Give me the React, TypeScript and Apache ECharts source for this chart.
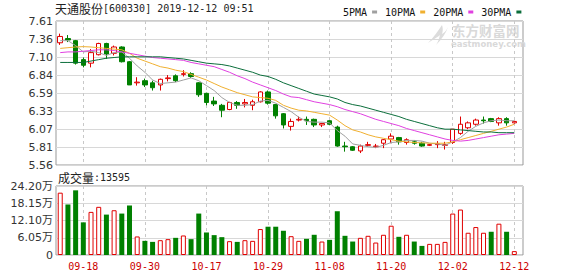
import React, { useEffect, useRef } from 'react';
import * as echarts from 'echarts';

const dates = [
  '09-12','09-16','09-17','09-18','09-19','09-20','09-23','09-24','09-25','09-26','09-27','09-30',
  '10-08','10-09','10-10','10-11','10-14','10-15','10-16','10-17','10-18','10-21','10-22','10-23','10-24','10-25','10-28','10-29','10-30','10-31',
  '11-01','11-04','11-05','11-06','11-07','11-08','11-11','11-12','11-13','11-14','11-15','11-18','11-19','11-20','11-21','11-22','11-25','11-26','11-27','11-28','11-29',
  '12-02','12-03','12-04','12-05','12-06','12-09','12-10','12-11','12-12'
];
const labelDates = ['09-18','09-30','10-17','10-29','11-08','11-20','12-02','12-12'];

const openP = [7.30,7.36,7.33,7.06,7.01,7.13,7.29,7.15,7.24,7.03,6.73,6.76,6.73,6.70,6.79,6.83,6.85,6.86,6.73,6.58,6.47,6.41,6.35,6.45,6.43,6.41,6.46,6.60,6.42,6.29,6.11,6.20,6.21,6.21,6.13,6.19,6.10,5.83,5.82,5.76,5.84,5.82,5.87,5.93,5.95,5.88,5.89,5.87,5.84,5.85,5.84,5.88,6.01,6.09,6.14,6.20,6.22,6.16,6.22,6.16];
const closeP = [7.39,7.34,7.01,6.98,7.16,7.29,7.14,7.24,7.03,6.70,6.74,6.70,6.66,6.78,6.80,6.76,6.86,6.82,6.56,6.45,6.43,6.34,6.45,6.41,6.45,6.46,6.60,6.44,6.26,6.13,6.18,6.21,6.19,6.13,6.15,6.14,5.83,5.82,5.77,5.83,5.85,5.83,5.92,5.97,5.89,5.92,5.87,5.83,5.85,5.86,5.85,6.07,6.14,6.16,6.20,6.19,6.18,6.22,6.16,6.18];
const lowP = [7.27,7.31,6.99,6.95,6.95,7.12,7.07,7.12,7.02,6.70,6.69,6.67,6.62,6.62,6.75,6.74,6.82,6.80,6.53,6.41,6.40,6.24,6.34,6.36,6.38,6.34,6.45,6.42,6.22,6.08,6.05,6.18,6.13,6.10,6.10,6.13,5.82,5.75,5.76,5.73,5.82,5.80,5.80,5.87,5.85,5.85,5.85,5.82,5.83,5.80,5.78,5.86,5.99,6.07,6.12,6.15,6.17,6.12,6.12,6.15];
const highP = [7.43,7.41,7.34,7.09,7.21,7.30,7.30,7.26,7.25,7.04,6.81,6.79,6.76,6.79,6.84,6.85,6.91,6.88,6.74,6.59,6.53,6.43,6.46,6.47,6.50,6.49,6.61,6.62,6.43,6.30,6.22,6.25,6.25,6.22,6.16,6.20,6.12,5.89,5.83,5.85,5.89,5.86,5.93,6.01,5.96,5.94,5.91,5.89,5.86,5.90,5.89,6.07,6.25,6.18,6.22,6.25,6.23,6.24,6.24,6.19];

const volumes = [218600,177200,226800,114500,151200,168900,141700,157000,145300,173600,65000,49600,46000,52000,55600,60200,68500,55600,145300,79000,69700,62600,48500,46000,52000,49600,91000,99200,99200,85000,66000,49600,56700,70900,47200,53100,153500,67300,47200,60200,67300,43700,70900,102700,63800,70900,47200,31900,39000,39000,46000,145300,159400,78000,98000,78000,81500,109800,81500,13595];
const volDir = [1,-1,-1,-1,1,1,-1,1,-1,-1,1,-1,-1,1,1,-1,1,-1,-1,-1,-1,-1,1,-1,1,1,1,-1,-1,-1,1,1,-1,-1,1,-1,-1,-1,-1,1,1,1,1,1,-1,1,-1,-1,1,1,1,1,1,1,1,1,-1,1,-1,1];

const ma5 = [7.33,7.33,7.26,7.17,7.18,7.16,7.12,7.16,7.17,7.08,6.97,6.88,6.77,6.72,6.73,6.74,6.77,6.80,6.76,6.69,6.62,6.52,6.45,6.41,6.41,6.42,6.47,6.48,6.44,6.38,6.32,6.24,6.18,6.17,6.17,6.16,6.05,5.97,5.86,5.84,5.82,5.81,5.84,5.88,5.89,5.91,5.91,5.90,5.87,5.86,5.84,5.89,5.95,6.04,6.11,6.16,6.19,6.20,6.19,6.19];
const ma10 = [7.22,7.23,7.24,7.245,7.24,7.23,7.22,7.21,7.20,7.15,7.08,7.04,7.00,6.96,6.94,6.91,6.89,6.85,6.81,6.77,6.72,6.67,6.63,6.59,6.56,6.53,6.52,6.51,6.48,6.41,6.37,6.34,6.33,6.31,6.29,6.27,6.20,6.12,6.06,6.03,5.99,5.96,5.94,5.92,5.90,5.89,5.88,5.875,5.87,5.87,5.87,5.89,5.92,5.95,5.98,6.01,6.04,6.07,6.10,6.14];
const ma20 = [7.16,7.17,7.17,7.18,7.19,7.20,7.20,7.19,7.17,7.15,7.13,7.11,7.09,7.08,7.07,7.06,7.05,7.02,7.00,6.98,6.96,6.92,6.88,6.83,6.79,6.74,6.70,6.66,6.62,6.57,6.53,6.52,6.49,6.46,6.44,6.42,6.39,6.35,6.32,6.29,6.25,6.21,6.18,6.15,6.12,6.08,6.05,6.02,5.99,5.96,5.93,5.91,5.90,5.91,5.93,5.95,5.97,5.99,6.00,6.01];
const ma30 = [7.02,7.02,7.02,7.02,7.04,7.06,7.08,7.09,7.10,7.10,7.10,7.10,7.10,7.10,7.09,7.08,7.07,7.05,7.03,7.01,7.00,6.99,6.97,6.94,6.91,6.88,6.84,6.82,6.78,6.73,6.69,6.65,6.61,6.57,6.55,6.53,6.50,6.45,6.42,6.40,6.37,6.34,6.31,6.28,6.25,6.21,6.18,6.15,6.12,6.09,6.07,6.07,6.06,6.05,6.04,6.03,6.03,6.02,6.02,6.02];

const maNames = ['5PMA','10PMA','20PMA','30PMA'];
const maColors = ['#a0a0a0','#f0b030','#e040e0','#0b6e3b'];

const priceTickLabels = ['5.56','5.81','6.07','6.33','6.59','6.84','7.10','7.36','7.61'];
const priceMin = 5.56;
const priceMax = 7.61;
const volMax = 242000;
const volStep = 60500;

const LOGO_D = 'M14 0 C10 6 6 12 0 18 C6 14 10 12 12 10 C11 14 10 17 8 20 C14 14 18 8 20 2 C18 6 16 8 14 9 C15 6 15 3 14 0 Z';
try {
  echarts.graphic.registerShape('emlogo', echarts.graphic.extendPath(LOGO_D, {}));
} catch (e) {}

export default function App() {
  const ref = useRef<HTMLDivElement>(null);
  useEffect(() => {
    if (!ref.current) return;
    const chart = echarts.init(ref.current, undefined, { renderer: 'svg' });
    const priceStep = (priceMax - priceMin) / (priceTickLabels.length - 1);
    const priceTicks = priceTickLabels.map((_, k) => priceMin + k * priceStep);
    const labelIdx = labelDates.map((d) => dates.indexOf(d));
    const mas = [ma5, ma10, ma20, ma30];
    const mono = 'DejaVu Sans Mono';
    const xAxisFor = (gridIndex: number, showLabel: boolean) => ({
      type: 'value',
      gridIndex,
      min: -0.55,
      max: 60.13,
      axisLine: { show: false },
      axisTick: { show: false, customValues: labelIdx },
      axisLabel: {
        show: showLabel,
        customValues: labelIdx,
        formatter: (v: number) => dates[Math.round(v)] ?? '',
        color: '#cc0000',
        fontSize: 10,
        fontFamily: mono,
        margin: 6,
      },
      splitLine: { show: true, lineStyle: { color: '#c8c8c8', type: [3, 3], width: 1 } },
    });
    const option: any = {
      animation: false,
      backgroundColor: '#ffffff',
      legend: {
        data: maNames,
        left: 338,
        top: 2,
        align: 'right',
        icon: 'rect',
        itemWidth: 5,
        itemHeight: 3,
        itemGap: 8,
        selectedMode: false,
        textStyle: { fontSize: 10, fontFamily: mono, color: '#111', padding: 0 },
      },
      grid: [
        { left: 56, right: 55, top: 21, height: 144, show: true, borderColor: '#999', borderWidth: 1 },
        { left: 56, right: 55, top: 186, height: 69, show: true, borderColor: '#999', borderWidth: 1 },
      ],
      xAxis: [xAxisFor(0, false), xAxisFor(1, true)],
      yAxis: [
        {
          type: 'value',
          gridIndex: 0,
          min: priceMin,
          max: priceMax,
          axisLine: { show: false },
          axisTick: { show: false, customValues: priceTicks },
          axisLabel: {
            customValues: priceTicks,
            formatter: (v: number) => priceTickLabels[Math.round((v - priceMin) / priceStep)] ?? '',
            color: '#333',
            fontSize: 11,
            fontFamily: 'DejaVu Sans',
            margin: 3,
          },
          splitLine: { show: true, lineStyle: { color: '#d8d8d8', width: 1 } },
        },
        {
          type: 'value',
          gridIndex: 1,
          min: 0,
          max: volMax,
          interval: volStep,
          axisLine: { show: false },
          axisTick: { show: false },
          axisLabel: {
            formatter: (v: number) => (v === 0 ? '0' : (v / 10000).toFixed(2) + '万'),
            color: '#333',
            fontSize: 11,
            fontFamily: 'DejaVu Sans, Noto Sans CJK SC',
            margin: 3,
          },
          splitLine: { show: true, lineStyle: { color: '#d8d8d8', width: 1 } },
        },
      ],
      graphic: [
        {
          type: 'text',
          x: 55,
          y: 8,
          style: {
            text: '{a|天通股份}{b|[600330] 2019-12-12 09:51}',
            verticalAlign: 'middle',
            rich: {
              a: { fontSize: 12, fontFamily: 'Noto Sans CJK SC', fill: '#222' },
              b: { fontSize: 10, fontFamily: mono, fill: '#222' },
            },
          },
        },
        {
          type: 'text',
          x: 58,
          y: 177,
          style: {
            text: '{a|成交量}{b|:13595}',
            verticalAlign: 'middle',
            rich: {
              a: { fontSize: 12, fontFamily: 'Noto Sans CJK SC', fill: '#222' },
              b: { fontSize: 10, fontFamily: mono, fill: '#222' },
            },
          },
        },
        {
          type: 'emlogo',
          x: 428,
          y: 25,
          scaleX: 1,
          scaleY: 1,
          silent: true,
          style: { fill: '#dcdcdc' },
        },
        {
          type: 'text',
          x: 452,
          y: 30,
          silent: true,
          style: {
            text: '东方财富网',
            fontSize: 13.5,
            fontWeight: 'bold',
            fontFamily: 'Noto Sans CJK SC',
            fill: '#d9d9d9',
            verticalAlign: 'middle',
          },
        },
        {
          type: 'text',
          x: 451,
          y: 44,
          silent: true,
          style: {
            text: 'eastmoney.com',
            fontSize: 8.5,
            fontWeight: 'bold',
            fontFamily: 'DejaVu Sans',
            fill: '#d9d9d9',
            verticalAlign: 'middle',
          },
        },
      ],
      series: [
        {
          type: 'candlestick',
          name: 'K',
          xAxisIndex: 0,
          yAxisIndex: 0,
          barWidth: 5,
          encode: { x: 0, y: [1, 2, 3, 4] },
          data: dates.map((_, i) => [i, openP[i], closeP[i], lowP[i], highP[i]]),
          itemStyle: {
            color: '#ffffff',
            color0: '#008000',
            borderColor: '#e00000',
            borderColor0: '#008000',
            borderWidth: 1,
          },
        },
        ...mas.map((arr, k) => ({
          type: 'line',
          name: maNames[k],
          xAxisIndex: 0,
          yAxisIndex: 0,
          data: arr.map((v, i) => [i, v]),
          showSymbol: false,
          symbol: 'none',
          color: maColors[k],
          itemStyle: { color: maColors[k] },
          lineStyle: { width: 1, color: maColors[k] },
        })),
        {
          type: 'bar',
          name: 'VOL',
          xAxisIndex: 1,
          yAxisIndex: 1,
          barWidth: 5,
          data: volumes.map((v, i) => ({
            value: [i, v],
            itemStyle:
              volDir[i] > 0
                ? { color: '#ffffff', borderColor: '#e00000', borderWidth: 1 }
                : { color: '#008000', borderColor: '#008000', borderWidth: 0 },
          })),
        },
      ],
    };
    chart.setOption(option);
    return () => chart.dispose();
  }, []);
  return (
    <div
      ref={ref}
      style={{ position: 'absolute', left: 0, top: 0, width: 578, height: 276, background: '#fff' }}
    />
  );
}
